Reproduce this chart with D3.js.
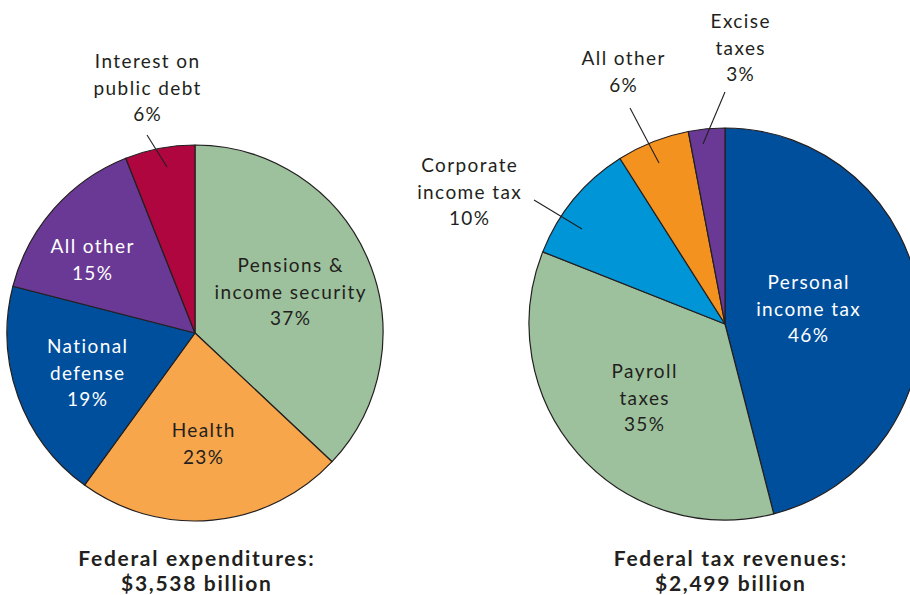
<!DOCTYPE html>
<html>
<head>
<meta charset="utf-8">
<script src="https://cdn.jsdelivr.net/npm/d3@7"></script>
<style>
  html, body { margin: 0; padding: 0; background: #fff; }
  svg { display: block; }
  text { font-family: Lato, "Open Sans", sans-serif; }
</style>
</head>
<body>
<svg id="chart" width="910" height="595"></svg>
<script>
// ---- Data ----
const expCategories = ["Pensions & income security", "Health", "National defense", "All other", "Interest on public debt"];
const expValues = [37, 23, 19, 15, 6];
const expLabelLines = [["Pensions &", "income security", "37%"], ["Health", "23%"], ["National", "defense", "19%"], ["All other", "15%"], ["Interest on", "public debt", "6%"]];
const expTitle = ["Federal expenditures:", "$3,538 billion"];

const revCategories = ["Personal income tax", "Payroll taxes", "Corporate income tax", "All other", "Excise taxes"];
const revValues = [46, 35, 10, 6, 3];
const revLabelLines = [["Personal", "income tax", "46%"], ["Payroll", "taxes", "35%"], ["Corporate", "income tax", "10%"], ["All other", "6%"], ["Excise", "taxes", "3%"]];
const revTitle = ["Federal tax revenues:", "$2,499 billion"];

// ---- Layout / style (separate from data) ----
const expColors = ["#9dc19c", "#f8a64b", "#004f9d", "#6a3995", "#af063f"];
const expTextColors = ["#231f20", "#231f20", "#ffffff", "#ffffff", "#231f20"];
const expLabelPos = [[290, 272], [203, 437], [87, 353], [92, 253], [147, 68]];
const expLeaders = [null, null, null, null, [[147, 135], [167, 167]]];

const revColors = ["#004f9d", "#9dc19c", "#0095d7", "#f4921f", "#6a3995"];
const revTextColors = ["#ffffff", "#231f20", "#231f20", "#231f20", "#231f20"];
const revLabelPos = [[808, 289], [644, 378], [469, 172], [623, 65], [740, 28]];
const revLeaders = [null, null, [[534, 200], [582, 229]], [[630, 108], [659, 163]], [[725, 92], [703, 144]]];

const svg = d3.select("#chart");
const lineH = 26.5;

function drawPie(cfg) {
  const g = svg.append("g").attr("transform", `translate(${cfg.cx},${cfg.cy})`);
  const pie = d3.pie().sort(null).value(d => d)(cfg.values);
  const arc = d3.arc().innerRadius(0).outerRadius(cfg.r);
  g.selectAll("path").data(pie).join("path")
    .attr("d", arc)
    .attr("fill", (d, i) => cfg.colors[i])
    .attr("stroke", "#231f20")
    .attr("stroke-width", 1.2)
    .attr("stroke-linejoin", "round");

  cfg.leaders.forEach(l => {
    if (!l) return;
    svg.append("line")
      .attr("x1", l[0][0]).attr("y1", l[0][1])
      .attr("x2", l[1][0]).attr("y2", l[1][1])
      .attr("stroke", "#231f20").attr("stroke-width", 1.1);
  });

  cfg.labels.forEach((lines, i) => {
    const t = svg.append("text")
      .attr("x", cfg.pos[i][0]).attr("y", cfg.pos[i][1])
      .attr("text-anchor", "middle")
      .attr("font-size", 19)
      .attr("letter-spacing", 1.4)
      .attr("fill", cfg.textColors[i]);
    lines.forEach((ln, j) => {
      t.append("tspan").attr("x", cfg.pos[i][0] + 0.7).attr("y", cfg.pos[i][1] + j * lineH).text(ln);
    });
  });

  const tt = svg.append("text")
    .attr("text-anchor", "middle")
    .attr("font-size", 21)
    .attr("font-weight", "bold")
    .attr("letter-spacing", 1.7)
    .attr("fill", "#231f20");
  cfg.title.forEach((ln, j) => {
    tt.append("tspan").attr("x", cfg.titleX + 0.85).attr("y", 566 + j * 25).text(ln);
  });
}

drawPie({cx: 195, cy: 333, r: 188, values: expValues, colors: expColors, textColors: expTextColors,
  labels: expLabelLines, pos: expLabelPos, leaders: expLeaders, title: expTitle, titleX: 196});
drawPie({cx: 725, cy: 324, r: 196, values: revValues, colors: revColors, textColors: revTextColors,
  labels: revLabelLines, pos: revLabelPos, leaders: revLeaders, title: revTitle, titleX: 730});
</script>
</body>
</html>
